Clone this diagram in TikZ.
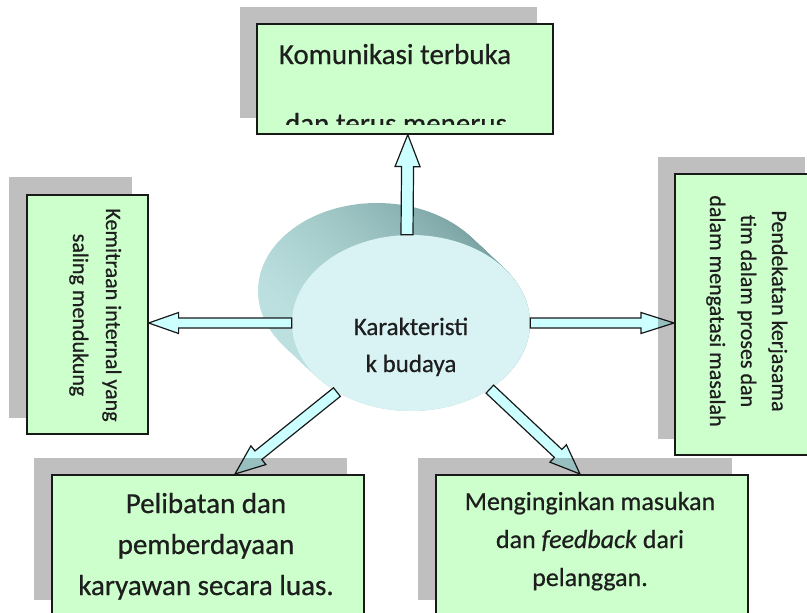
\documentclass[tikz,border=0pt]{standalone}
\usepackage{fontspec}
\setmainfont[FakeBold=0.6]{Carlito}
\usetikzlibrary{calc,shapes.geometric}
\definecolor{boxgreen}{HTML}{CCFFCC}
\definecolor{arrowcyan}{HTML}{CCFFFF}
\definecolor{ellfront}{HTML}{D9F3F5}
\definecolor{elllight}{HTML}{BCE0E0}
\definecolor{elldark}{HTML}{79A2A2}
\definecolor{txt}{HTML}{1E1E1E}
\pgfdeclarelayer{elllayer}
\pgfdeclarelayer{arrlayer}
\pgfdeclarelayer{shdlayer}
\pgfsetlayers{elllayer,arrlayer,shdlayer,main}
\tikzset{
  greenbox/.style={draw=black!90, line width=1.6pt, fill=boxgreen, inner sep=0pt, anchor=north west},
  shadowbox/.style={fill=black, fill opacity=0.25, draw=none},
  blockarrow/.style={draw=black!90, line width=1.2pt, fill=arrowcyan, line join=miter},
  lbl/.style={text=txt, inner sep=0pt, anchor=base},
  bigtxt/.style={font=\fontsize{29}{35}\selectfont},
  midtxt/.style={font=\fontsize{26}{31}\selectfont},
  cortxt/.style={font=\fontsize{25}{30}\selectfont},
  sidetxt/.style={font=\fontsize{22}{26}\selectfont, rotate=-90},
}
\newcommand\blockarr[5]{%
  \coordinate (baS) at (#1);
  \coordinate (baT) at (#2);
  \coordinate (baH) at ($(baT)!#5!(baS)$);
  \draw[blockarrow] ($(baS)!#3!90:(baT)$) -- ($(baH)!#3!90:(baT)$) -- ($(baH)!#4!90:(baT)$) -- (baT)
     -- ($(baH)!#4!-90:(baT)$) -- ($(baH)!#3!-90:(baT)$) -- ($(baS)!#3!-90:(baT)$) -- cycle;}
\begin{document}
\begin{tikzpicture}[x=1pt,y=-1pt]
\useasboundingbox (0,0) rectangle (807,613);
\clip (0,0) rectangle (807,613);
% boxes
\node[greenbox, minimum width=296pt, minimum height=110pt] (top) at (256,23) {};
\node[greenbox, minimum width=121pt, minimum height=239pt] (left) at (26,194) {};
\node[greenbox, minimum width=147pt, minimum height=281pt] (right) at (674,173) {};
\node[greenbox, minimum width=312pt, minimum height=143pt] (bl) at (51,474) {};
\node[greenbox, minimum width=312pt, minimum height=143pt] (br) at (435,474) {};
\coordinate (blTip) at (235,474);
\coordinate (brTip) at (580,474);
% central ellipse
\begin{pgfonlayer}{elllayer}
\foreach \i in {0,...,34} {
  \shade[top color=elldark, bottom color=elllight, shading angle=-68]
    ({377+\i},{291+0.94*\i}) ellipse [x radius=119pt, y radius=88pt];
}
\node[ellipse, fill=ellfront, minimum width=238pt, minimum height=176pt, inner sep=0pt] (core) at (411,323) {};
\end{pgfonlayer}
% arrows
\begin{pgfonlayer}{arrlayer}
\blockarr{$(core.north)+(-4,0)$}{$(top.south)+(3,0)$}{6pt}{12.5pt}{32pt}
\blockarr{core.west}{left.east |- core.west}{5pt}{10.5pt}{30pt}
\blockarr{core.east}{right.west |- core.east}{5pt}{10.5pt}{33pt}
\blockarr{core.223}{blTip}{5.5pt}{12pt}{30pt}
\blockarr{core.320}{brTip}{5.5pt}{12pt}{30pt}
\end{pgfonlayer}
% shadows
\begin{pgfonlayer}{shdlayer}
\fill[shadowbox] (240,7) rectangle (537,118);
\fill[shadowbox] (9,177) rectangle (132,418);
\fill[shadowbox] (658,157) rectangle (805,439);
\fill[shadowbox] (34,458) rectangle (347,600);
\fill[shadowbox] (418,458) rectangle (732,600);
\end{pgfonlayer}
% texts
\node[lbl, bigtxt] (t1) at (395,64) {Komunikasi terbuka};
\begin{scope}
\clip (256,23) rectangle (552,124);
\node[lbl, bigtxt] (t2) at (396,133) {dan terus menerus};
\end{scope}
\node[lbl, sidetxt] (l1) at (106,315) {Kemitraan internal yang};
\node[lbl, sidetxt] (l2) at (73,315) {saling mendukung};
\node[lbl, sidetxt] (r1) at (772,311) {Pendekatan kerjasama};
\node[lbl, sidetxt] (r2) at (741,311) {tim dalam proses dan};
\node[lbl, sidetxt] (r3) at (710,311) {dalam mengatasi masalah};
\node[lbl, cortxt] (c1) at (411,335) {Karakteristi};
\node[lbl, cortxt] (c2) at (411,372) {k budaya};
\node[lbl, bigtxt] (b1) at (206,513) {Pelibatan dan};
\node[lbl, bigtxt] (b2) at (206,554) {pemberdayaan};
\node[lbl, bigtxt] (b3) at (206,595) {karyawan secara luas.};
\node[lbl, midtxt] (m1) at (590,510) {Menginginkan masukan};
\node[lbl, midtxt] (m2) at (590,548) {dan \textit{feedback} dari};
\node[lbl, midtxt] (m3) at (590,586) {pelanggan.};
\end{tikzpicture}
\end{document}
